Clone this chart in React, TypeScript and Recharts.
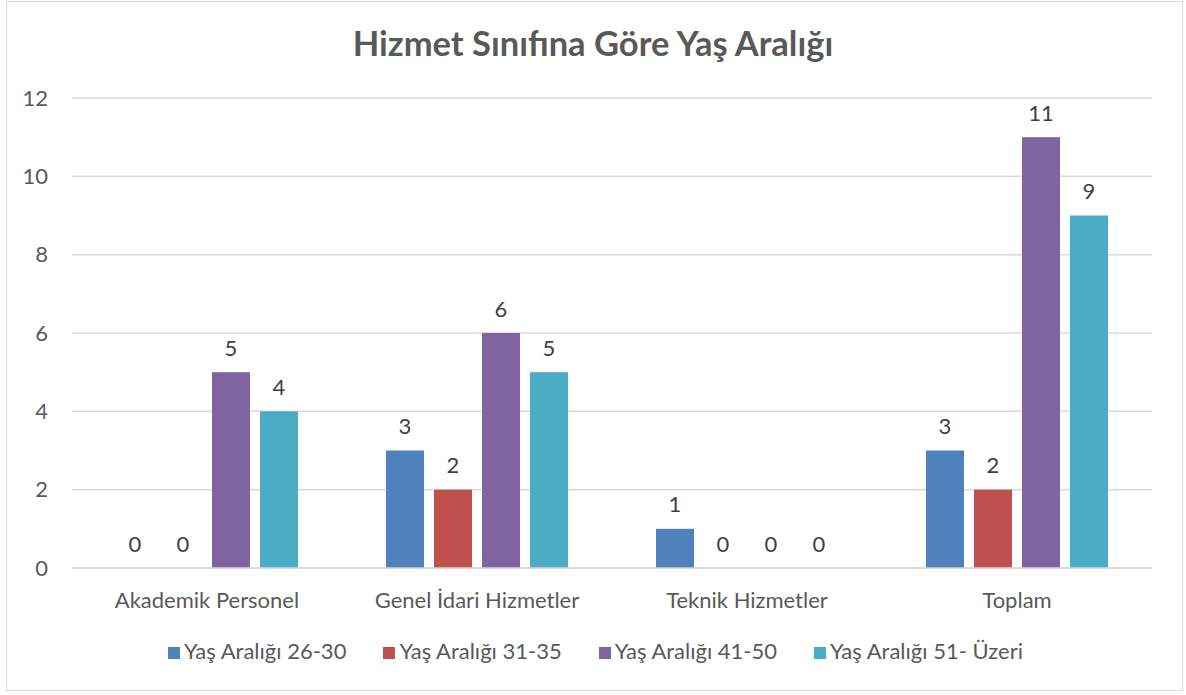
import {
  BarChart,
  Bar,
  XAxis,
  YAxis,
  CartesianGrid,
  Legend,
} from "recharts";

// Categories and series values
const categories = [
  "Akademik Personel",
  "Genel İdari Hizmetler",
  "Teknik Hizmetler",
  "Toplam",
];
const age26to30 = [0, 3, 1, 3];
const age31to35 = [0, 2, 0, 2];
const age41to50 = [5, 6, 0, 11];
const age51plus = [4, 5, 0, 9];
const yTicks = [0, 2, 4, 6, 8, 10, 12];

const series = [
  { key: "a", name: "Yaş Aralığı 26-30", color: "#4F81BD" },
  { key: "b", name: "Yaş Aralığı 31-35", color: "#C0504D" },
  { key: "c", name: "Yaş Aralığı 41-50", color: "#8064A2" },
  { key: "d", name: "Yaş Aralığı 51- Üzeri", color: "#4BACC6" },
];

const data = categories.map((name, i) => ({
  name,
  a: age26to30[i],
  b: age31to35[i],
  c: age41to50[i],
  d: age51plus[i],
}));

const FONT = "Lato, 'Open Sans', sans-serif";

// bar + its value label; a custom shape so zero-height bars still get "0"
const BarWithValue = (props: any) => {
  const { x, y, width, height, fill } = props;
  let value = props.value;
  if (Array.isArray(value)) value = value[value.length - 1];
  const h = Math.max(0, Number(height) || 0);
  return (
    <g>
      {h > 0 && <rect x={x} y={y} width={width} height={h} fill={fill} />}
      <text
        x={Number(x) + Number(width) / 2}
        y={Number(y) - 25}
        textAnchor="middle"
        dominantBaseline="central"
        fill="#404040"
        fontSize={22}
        fontFamily={FONT}
      >
        {value}
      </text>
    </g>
  );
};

const App = () => {
  return (
    <div
      style={{
        position: "absolute",
        left: 0,
        top: 0,
        width: 1186,
        height: 695,
        background: "#fff",
        fontFamily: FONT,
      }}
    >
      {/* chart frame */}
      <div
        style={{
          position: "absolute",
          left: 6,
          top: 1,
          width: 1175,
          height: 688,
          border: "1px solid #d9d9d9",
        }}
      />
      <div
        style={{
          position: "absolute",
          left: 0,
          top: 22,
          width: 1186,
          textAlign: "center",
          fontSize: 34.5,
          fontWeight: 700,
          color: "#595959",
        }}
      >
        Hizmet Sınıfına Göre Yaş Aralığı
      </div>
      <div style={{ position: "absolute", left: 0, top: 0 }}>
        <BarChart
          width={1186}
          height={695}
          data={data}
          margin={{ top: 71, right: 34, left: 0, bottom: 97 }}
          barCategoryGap="16%"
          barGap={10}
          barSize={38}
        >
          <CartesianGrid vertical={false} stroke="#d9d9d9" strokeWidth={1.5} />
          <XAxis
            dataKey="name"
            tickLine={false}
            axisLine={{ stroke: "#d9d9d9", strokeWidth: 1.5 }}
            tick={{ fill: "#595959", fontSize: 22, fontFamily: FONT }}
            tickMargin={18}
            interval={0}
          />
          <YAxis
            width={72}
            domain={[0, 12]}
            ticks={yTicks}
            tickLine={false}
            axisLine={false}
            tick={{ fill: "#595959", fontSize: 22, fontFamily: FONT }}
            tickMargin={18}
          />
          <Legend
            verticalAlign="top"
            iconType="square"
            iconSize={12}
            wrapperStyle={{
              top: 637,
              left: 21,
              width: 1186,
              fontSize: 22,
              fontFamily: FONT,
            }}
            formatter={(value) => (
              <span style={{ color: "#595959", marginRight: 27 }}>{value}</span>
            )}
          />
          {series.map((s) => (
            <Bar
              key={s.key}
              dataKey={s.key}
              name={s.name}
              fill={s.color}
              shape={BarWithValue}
              isAnimationActive={false}
            />
          ))}
        </BarChart>
      </div>
    </div>
  );
};

export default App;
